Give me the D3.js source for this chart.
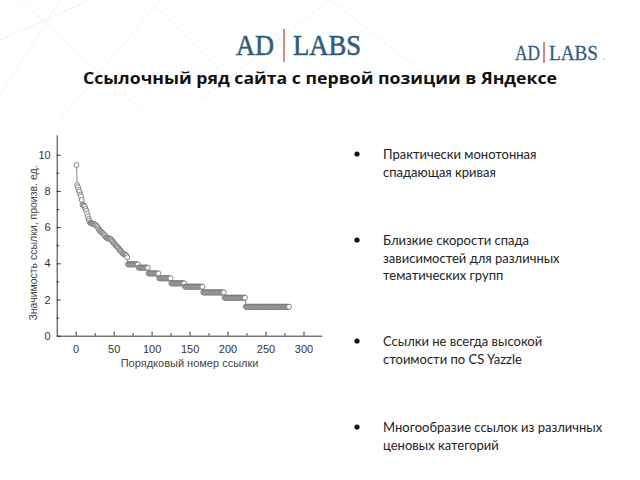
<!DOCTYPE html>
<html><head><meta charset="utf-8">
<script src="https://cdn.jsdelivr.net/npm/d3@7"></script>
<style>body{margin:0;background:#fff}svg{display:block}</style>
</head><body>
<svg id="c" width="640" height="480"></svg>
<script>
// ---- data ----
const titleText = "Ссылочный ряд сайта с первой позиции в Яндексе";
const xLabel = "Порядковый номер ссылки";
const yLabel = "Значимость ссылки, произв. ед.";
const xTicks = [0, 50, 100, 150, 200, 250, 300];
const yTicks = [0, 2, 4, 6, 8, 10];
// first (descending) part, ranks 1..68
const headValues = [9.43, 8.32, 8.2, 8.05, 7.95, 7.8, 7.7, 7.5, 7.25, 7.2,
  7.18, 7.12, 7.0, 6.9, 6.76, 6.6, 6.45, 6.35, 6.25, 6.22,
  6.2, 6.19, 6.18, 6.17, 6.15, 6.12, 6.1, 6.05, 6.0, 5.92,
  5.86, 5.8, 5.75, 5.72, 5.68, 5.65, 5.6, 5.56, 5.5, 5.43,
  5.4, 5.39, 5.38, 5.37, 5.36, 5.34, 5.3, 5.24, 5.19, 5.13,
  5.08, 5.03, 4.98, 4.95, 4.9, 4.86, 4.8, 4.74, 4.7, 4.65,
  4.6, 4.55, 4.51, 4.5, 4.48, 4.46, 4.4, 4.33];
// stepped part: value of each plateau and the last rank in it
const plateauValues = [3.94, 3.76, 3.44, 3.17, 2.89, 2.71, 2.39, 2.1, 1.6];
const plateauLastRank = [82, 95, 109, 125, 143, 167, 195, 223, 281];
const bullets = [
  ["Практически монотонная", "спадающая кривая"],
  ["Близкие скорости спада", "зависимостей для различных", "тематических групп"],
  ["Ссылки не всегда высокой", "стоимости по CS Yazzle"],
  ["Многообразие ссылок из различных", "ценовых категорий"]
];

// build point list
const points = headValues.map((v, i) => ({rank: i + 1, value: v}));
let r = headValues.length + 1;
plateauValues.forEach((v, k) => {
  for (; r <= plateauLastRank[k]; r++) points.push({rank: r, value: v});
});

const svg = d3.select("#c");

// faint background lines
const bg = svg.append("g").attr("stroke", "#eeeeee").attr("stroke-width", 0.8).attr("fill", "none");
[[0,40,90,0],[20,0,140,110],[60,120,160,0],[150,0,240,90],[200,100,330,0],[330,0,420,70],[0,95,60,0]].forEach(l=>{
  bg.append("line").attr("x1",l[0]).attr("y1",l[1]).attr("x2",l[2]).attr("y2",l[3]);
});

// logos
function logo(x, y, size, adW, labsW, gapL, gapR, barTop, barBot, sw) {
  const g = svg.append("g").attr("transform", `translate(${x},${y})`);
  const f = "'Liberation Serif', 'DejaVu Serif', serif";
  g.append("text").attr("font-family", f).attr("font-size", size)
    .attr("fill", "#2f5d7c").attr("stroke", "#2f5d7c").attr("stroke-width", sw).attr("x", -gapL - adW)
    .attr("textLength", adW).attr("lengthAdjust", "spacingAndGlyphs").text("AD");
  g.append("line").attr("x1", 0).attr("x2", 0).attr("y1", barTop).attr("y2", barBot)
    .attr("stroke", "#c0392b").attr("stroke-width", 1.2);
  g.append("text").attr("font-family", f).attr("font-size", size)
    .attr("fill", "#2f5d7c").attr("stroke", "#2f5d7c").attr("stroke-width", sw).attr("x", gapR)
    .attr("textLength", labsW).attr("lengthAdjust", "spacingAndGlyphs").text("LABS");
}
logo(284, 55, 30, 38, 68, 10, 9, -26, 7, 0.6);
logo(544, 60, 20, 25, 49, 4, 5, -18, 3, 0.3);
svg.append("circle").attr("cx", 604).attr("cy", 59).attr("r", 0.8).attr("fill", "#999");

// title
svg.append("text").attr("x", 320).attr("y", 84).attr("text-anchor", "middle")
  .attr("font-family", "'Open Sans', 'DejaVu Sans', sans-serif").attr("font-weight", "bold")
  .attr("font-size", 16.5).attr("fill", "#111")
  .attr("textLength", 474).attr("lengthAdjust", "spacingAndGlyphs")
  .text(titleText);

// chart
const x = d3.scaleLinear().domain([-25, 324]).range([56.7, 321.7]);
const y = d3.scaleLinear().domain([0, 11.1]).range([335.7, 134.8]);
const axisCol = "#333";

const gx = svg.append("g").attr("transform", `translate(0,${y(0)})`);
gx.call(d3.axisBottom(x).tickValues(d3.range(0, 301, 25)).tickSize(-4).tickSizeOuter(0).tickFormat(""));
gx.selectAll(".tick line").attr("y2", (d) => d % 50 === 0 ? -4 : -2.5);
const gxl = svg.append("g").attr("transform", `translate(0,${y(0)})`);
gxl.call(d3.axisBottom(x).tickValues(xTicks).tickSize(0).tickPadding(10));
gxl.select(".domain").remove();

const gy = svg.append("g").attr("transform", `translate(${x(-25)},0)`);
gy.call(d3.axisLeft(y).tickValues(d3.range(0, 11, 1)).tickSize(-4).tickSizeOuter(0).tickFormat(""));
gy.selectAll(".tick line").attr("x2", (d) => d % 2 === 0 ? 4 : 2.5);
const gyl = svg.append("g").attr("transform", `translate(${x(-25)},0)`);
gyl.call(d3.axisLeft(y).tickValues(yTicks).tickSize(0).tickPadding(6));
gyl.select(".domain").remove();

svg.selectAll(".domain, .tick line").attr("stroke", axisCol).attr("stroke-width", 1);
svg.selectAll(".tick text").attr("font-family", "'Liberation Sans', Arial, sans-serif")
  .attr("font-size", 11).attr("fill", "#333");

svg.append("text").attr("x", x(150)).attr("y", 367).attr("text-anchor", "middle")
  .attr("font-family", "'Liberation Sans', Arial, sans-serif").attr("font-size", 11).attr("fill", "#444")
  .text(xLabel);
svg.append("text").attr("transform", `translate(37,243) rotate(-90)`).attr("text-anchor", "middle")
  .attr("font-family", "'Liberation Sans', Arial, sans-serif").attr("font-size", 10.5).attr("fill", "#444")
  .text(yLabel);

// line and markers
svg.append("path").datum(points)
  .attr("d", d3.line().x(d => x(d.rank)).y(d => y(d.value)))
  .attr("fill", "none").attr("stroke", "#666").attr("stroke-width", 0.8);
svg.append("g").selectAll("circle").data(points).join("circle")
  .attr("cx", d => x(d.rank)).attr("cy", d => y(d.value)).attr("r", 2.5)
  .attr("fill", "#fff").attr("stroke", "#6a6a6a").attr("stroke-width", 0.8);

// bullets
const bulletTop = [159, 245, 346, 432];
const bf = "'Lato', 'Open Sans', sans-serif";
bullets.forEach((lines, i) => {
  svg.append("circle").attr("cx", 357).attr("cy", bulletTop[i] - 5).attr("r", 2.6).attr("fill", "#111");
  lines.forEach((t, j) => {
    svg.append("text").attr("x", 383).attr("y", bulletTop[i] + j * 17.5)
      .attr("font-family", bf).attr("font-size", 13).attr("fill", "#222").text(t);
  });
});
</script>
</body></html>
